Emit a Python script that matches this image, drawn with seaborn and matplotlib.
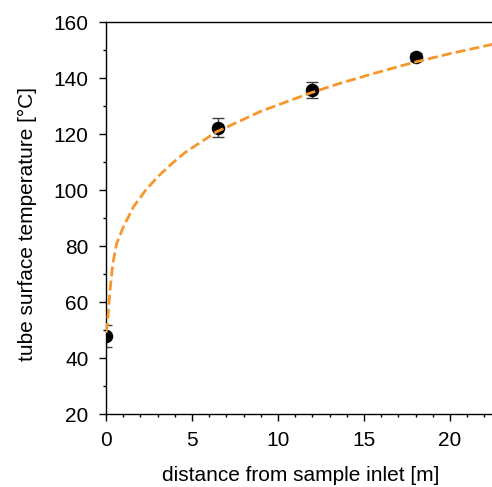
import numpy as np
import pandas as pd
import matplotlib
matplotlib.use("Agg")
import matplotlib.pyplot as plt
from matplotlib.ticker import MultipleLocator
import seaborn as sns

# measured data
dist_m = [0.0, 6.5, 12.0, 18.0]
temp_c = [48.0, 122.3, 135.6, 147.6]
temp_err = [3.9, 3.4, 2.9, 1.5]

# fitted curve
fit_x = [0.0, 0.08, 0.23, 0.39, 0.62, 1.0, 1.6, 2.36, 3.14, 3.9, 4.6,
         6.4, 9.0, 11.86, 13.55, 15.5, 17.85, 20.0, 22.6]
fit_y = [49.0, 52.0, 64.0, 73.5, 80.8, 86.7, 94.0, 100.4, 105.5, 109.8, 113.4,
         120.7, 128.1, 134.6, 138.0, 141.5, 145.5, 148.7, 152.2]

sns.set_theme(style="white")
plt.rcParams['font.family'] = ['Liberation Sans', 'DejaVu Sans']

fig = plt.figure(figsize=(4.92, 4.87), dpi=100)
W = 492 - 106
H = 414 - 22
ax = fig.add_axes([106/492, 1-414/487, W/492, H/487])

pts = pd.DataFrame({"x": dist_m, "y": temp_c})
fit = pd.DataFrame({"x": fit_x, "y": fit_y})

ax.errorbar(dist_m, temp_c, yerr=temp_err, fmt='none', ecolor='#404040',
            elinewidth=1.0, capsize=4, capthick=1.0, zorder=2)
sns.scatterplot(data=pts, x="x", y="y", ax=ax, color='black', s=95,
                edgecolor='black', linewidth=0, zorder=3)
sns.lineplot(data=fit, x="x", y="y", ax=ax, color='#F7962A', linewidth=2.0,
             dashes=False, zorder=4, sort=True)
ax.lines[-1].set_dashes([3.6, 1.5])

ax.set_xlim(0, W/17.2)
ax.set_ylim(20, 160)
ax.xaxis.set_major_locator(MultipleLocator(5))
ax.xaxis.set_minor_locator(MultipleLocator(1))
ax.yaxis.set_major_locator(MultipleLocator(20))
ax.yaxis.set_minor_locator(MultipleLocator(10))

for s in ['left', 'bottom', 'top']:
    ax.spines[s].set_visible(True)
    ax.spines[s].set_color('black')
    ax.spines[s].set_linewidth(1.0)
ax.spines['right'].set_visible(False)

ax.tick_params(axis='both', which='major', direction='out', length=5, width=1,
               color='black', labelsize=15, labelcolor='black', pad=7.5,
               bottom=True, left=True, top=False, right=False)
ax.tick_params(axis='both', which='minor', direction='out', length=2.5, width=1,
               color='black', bottom=True, left=True, top=False, right=False)

ax.set_xlabel("distance from sample inlet [m]", fontsize=15, color='black')
ax.set_ylabel("tube surface temperature [°C]", fontsize=15, color='black')
ax.xaxis.set_label_coords((301-106)/W, -(466-414)/H)
ax.yaxis.set_label_coords(-(106-37.5)/W, (414-224)/H)
ax.grid(False)

fig.savefig("out.png", dpi=100)
